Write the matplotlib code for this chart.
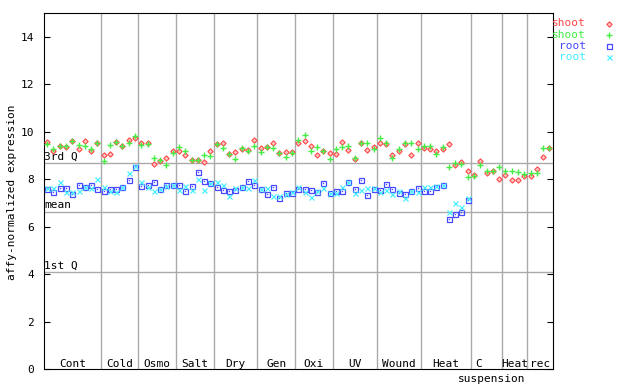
import numpy as np
import matplotlib
matplotlib.use('Agg')
from matplotlib import pyplot as plt
from matplotlib.lines import Line2D

# Grupos de amostras e quantas amostras cada um tem
grupos = ['Cont', 'Cold', 'Osmo', 'Salt', 'Dry', 'Gen', 'Oxi', 'UV',
          'Wound', 'Heat', 'C', 'Heat', 'rec']
tamanhos = [9, 6, 6, 6, 7, 6, 6, 7, 7, 8, 5, 4, 4]

# Linhas de referencia (3o quartil, media, 1o quartil)
ref_nomes = ['3rd Q', 'mean', '1st Q']
ref_valores = [8.67, 6.60, 4.07]

# shoot, replica 1 (vermelho)
shoot_1 = [9.55, 9.19, 9.40, 9.37, 9.61, 9.27, 9.62, 9.19, 9.53,
           9.02, 9.06, 9.58, 9.41, 9.65, 9.72,
           9.51, 9.54, 8.64, 8.78, 8.89, 9.20,
           9.20, 9.00, 8.79, 8.82, 8.72, 9.20,
           9.49, 9.52, 9.06, 9.14, 9.28, 9.24, 9.64,
           9.30, 9.37, 9.51, 9.09, 9.13, 9.13,
           9.51, 9.61, 9.40, 9.02, 9.19, 9.09,
           9.05, 9.58, 9.23, 8.85, 9.54, 9.23, 9.34,
           9.51, 9.48, 9.02, 9.19, 9.47, 9.02, 9.51,
           9.33, 9.26, 9.18, 9.26, 9.48, 8.58, 8.71, 8.33,
           8.16, 8.77, 8.26, 8.33, 8.01,
           8.16, 7.95, 7.95, 8.12,
           8.12, 8.43, 8.92, 9.31]

# shoot, replica 2 (verde)
shoot_2 = [9.48, 9.25, 9.40, 9.40, 9.60, 9.42, 9.38, 9.25, 9.51,
           8.78, 9.44, 9.58, 9.41, 9.51, 9.82,
           9.44, 9.50, 8.88, 8.79, 8.58, 9.10,
           9.36, 9.17, 8.79, 8.82, 9.00, 8.96,
           9.49, 9.31, 9.06, 8.86, 9.31, 9.17, 9.38,
           9.16, 9.37, 9.33, 9.09, 8.95, 9.09,
           9.65, 9.86, 9.19, 9.34, 9.19, 8.85,
           9.26, 9.37, 9.41, 8.88, 9.51, 9.51, 9.27,
           9.72, 9.51, 8.88, 9.27, 9.51, 9.51, 9.27,
           9.41, 9.41, 9.05, 9.37, 8.53, 8.68, 8.62, 8.08,
           8.15, 8.58, 8.33, 8.33, 8.50,
           8.36, 8.33, 8.30, 8.22,
           8.26, 8.25, 9.31, 9.31]

# root, replica 1 (azul) - so ate o grupo Heat
root_1 = [7.57, 7.45, 7.61, 7.61, 7.36, 7.74, 7.66, 7.74, 7.57,
          7.50, 7.59, 7.57, 7.66, 7.96, 8.53,
          7.71, 7.75, 7.87, 7.58, 7.77, 7.74,
          7.74, 7.49, 7.70, 8.30, 7.91, 7.84,
          7.66, 7.53, 7.49, 7.56, 7.66, 7.91, 7.77,
          7.57, 7.36, 7.68, 7.19, 7.40, 7.43,
          7.59, 7.59, 7.54, 7.47, 7.82, 7.40,
          7.51, 7.51, 7.87, 7.57, 7.96, 7.33, 7.57,
          7.54, 7.78, 7.59, 7.40, 7.36, 7.50, 7.62,
          7.52, 7.50, 7.67, 7.75, 6.32, 6.51, 6.60, 7.10]

# root, replica 2 (ciano)
root_2 = [7.61, 7.61, 7.87, 7.47, 7.45, 7.51, 7.66, 7.61, 7.99,
          7.68, 7.52, 7.47, 7.66, 8.25, 8.57,
          7.89, 7.68, 7.50, 7.59, 7.70, 7.74,
          7.56, 7.70, 7.53, 8.02, 7.56, 7.84,
          7.88, 7.74, 7.30, 7.63, 7.66, 7.63, 7.98,
          7.59, 7.64, 7.29, 7.31, 7.36, 7.47,
          7.68, 7.47, 7.24, 7.51, 7.64, 7.40,
          7.40, 7.68, 7.87, 7.40, 7.54, 7.61, 7.61,
          7.47, 7.54, 7.37, 7.50, 7.19, 7.51, 7.46,
          7.66, 7.66, 7.70, 7.74, 6.60, 7.00, 6.81, 7.21]

FONTE = 'DejaVu Sans Mono'
CINZA = '#aaaaaa'
VERMELHO, VERDE, AZUL, CIANO = '#ff4848', '#44ee44', '#4848ff', '#44eeff'

# Estilos dos marcadores (usados no grafico e na legenda)
est_shoot_1 = dict(marker='D', ms=2.7, mew=0.8, mec=VERMELHO, mfc='#ffc4c4')
est_shoot_2 = dict(marker='+', ms=4.5, mew=1.0, color=VERDE)
est_root_1 = dict(marker='s', ms=3.6, mew=0.9, mec=AZUL, mfc='none')
est_root_2 = dict(marker='x', ms=3.6, mew=0.9, color=CIANO)

fig = plt.figure(figsize=(6.4, 3.84), dpi=100)
ax = fig.add_axes([44 / 640, 15 / 384, 508.5 / 640, 356 / 384])

# Limites dos grupos (x de cada amostra = 1, 2, 3, ...)
limites = np.cumsum(tamanhos)
inicios = limites - np.array(tamanhos)
total = limites[-1]

ax.set_xlim(0.5, total + 0.5)
ax.set_ylim(0, 15)

# Separadores verticais entre grupos
for lim in limites[:-1]:
    ax.axvline(lim + 0.5, color=CINZA, lw=1.0, zorder=1)

# Linhas de referencia com os nomes
for nome, valor in zip(ref_nomes, ref_valores):
    ax.axhline(valor, color=CINZA, lw=1.0, zorder=1)
    ax.text(0.55, valor + 0.08, nome, fontsize=8, family=FONTE,
            ha='left', va='bottom')

# Pontos
x_shoot = np.arange(1, len(shoot_1) + 1)
x_root = np.arange(1, len(root_1) + 1)
ax.plot(x_shoot, shoot_1, ls='none', zorder=3, **est_shoot_1)
ax.plot(x_shoot, shoot_2, ls='none', zorder=3, **est_shoot_2)
ax.plot(x_root, root_1, ls='none', zorder=3, **est_root_1)
ax.plot(x_root, root_1, ls='none', marker='s', ms=0.9, mew=0,
        mfc=AZUL, zorder=3)
ax.plot(x_root, root_2, ls='none', zorder=3, **est_root_2)

# Nomes dos grupos dentro do eixo, em baixo
for nome, ini, fim in zip(grupos, inicios, limites):
    centro = (ini + fim + 1) / 2
    if nome == 'C':
        centro -= 1.2
    ax.text(centro, 0.1, nome, fontsize=8, family=FONTE,
            ha='center', va='baseline')
# segunda linha do 'C suspension', abaixo do eixo
ax.text(limites[10] - 1.2, -0.2, 'suspension', fontsize=8, family=FONTE,
        ha='center', va='top', clip_on=False)

# Eixos e marcas
ax.set_xticks([])
ax.set_yticks(range(0, 15, 2))
ax.tick_params(axis='y', direction='in', length=4.5, width=0.8,
               right=True, labelsize=8, pad=7)
for lab in ax.get_yticklabels():
    lab.set_family(FONTE)
for spine in ax.spines.values():
    spine.set_linewidth(0.8)

fig.text(12 / 640, 0.5, 'affy-normalized expression', rotation=90,
         fontsize=8, family=FONTE, ha='center', va='center')

# Legenda manual a direita
legenda = [('shoot', VERMELHO, est_shoot_1),
           ('shoot', VERDE, est_shoot_2),
           ('root', AZUL, est_root_1),
           ('root', CIANO, est_root_2)]
for i, (nome, cor, estilo) in enumerate(legenda):
    y = 1 - (23.5 + i * 11.2) / 384
    fig.text(586 / 640, y, nome, color=cor, fontsize=8, family=FONTE,
             ha='right', va='center')
    fig.add_artist(Line2D([609 / 640], [y], transform=fig.transFigure,
                          ls='none', **estilo))

fig.savefig('out.png', dpi=100)
